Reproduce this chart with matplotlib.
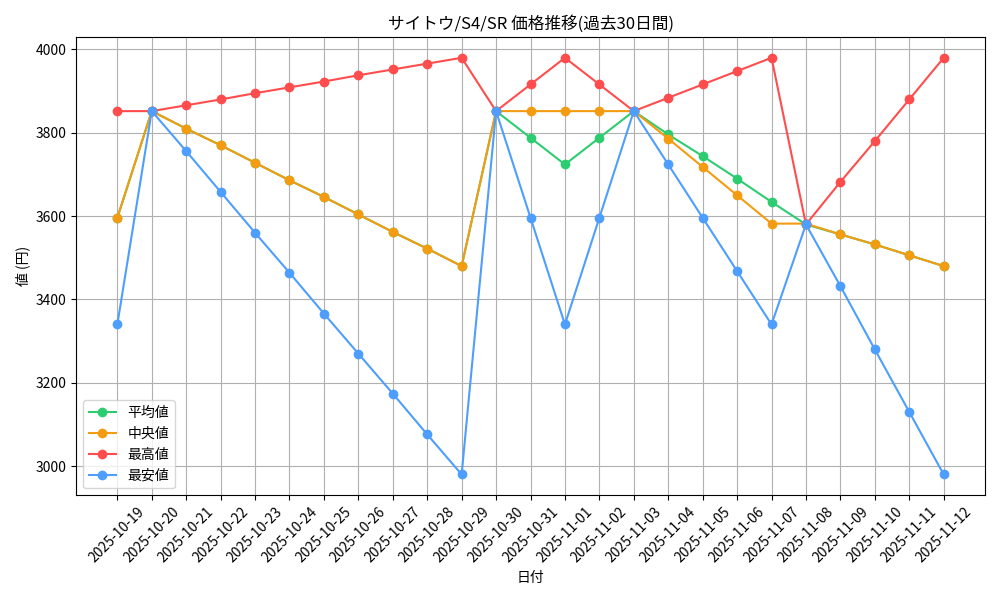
import matplotlib
matplotlib.use("Agg")
import matplotlib.pyplot as plt
import pandas as pd

plt.rcParams['font.family'] = ['Noto Sans CJK JP', 'DejaVu Sans']

dates = pd.date_range("2025-10-19", "2025-11-12").strftime("%Y-%m-%d").tolist()
mean_v = [3596, 3852, 3810, 3770, 3728, 3686, 3646, 3604, 3562, 3522, 3480,
          3852, 3788, 3724, 3788, 3852, 3796, 3744, 3690, 3634, 3580, 3556, 3532, 3506, 3480]
median_v = [3596, 3852, 3810, 3770, 3728, 3686, 3646, 3604, 3562, 3522, 3480,
            3852, 3852, 3852, 3852, 3852, 3786, 3718, 3650, 3582, 3582, 3556, 3532, 3506, 3480]
max_v = [3852, 3852, 3866, 3880, 3895, 3909, 3923, 3938, 3952, 3966, 3980,
         3852, 3916, 3980, 3916, 3852, 3884, 3916, 3948, 3980, 3580, 3682, 3780, 3880, 3980]
min_v = [3340, 3852, 3756, 3658, 3560, 3464, 3366, 3270, 3174, 3076, 2980,
         3852, 3596, 3340, 3596, 3852, 3724, 3596, 3468, 3340, 3580, 3432, 3280, 3130, 2980]

fig, ax = plt.subplots(figsize=(10, 6), dpi=100)
ax.plot(dates, mean_v, marker='o', color='#2ecc71', label='平均値')
ax.plot(dates, median_v, marker='o', color='#f39c12', label='中央値')
ax.plot(dates, max_v, marker='o', color='#ff4d4d', label='最高値')
ax.plot(dates, min_v, marker='o', color='#4d9eff', label='最安値')
ax.set_title("サイトウ/S4/SR 価格推移(過去30日間)")
ax.set_xlabel("日付")
ax.set_ylabel("値 (円)")
ax.grid(True)
ax.legend(loc='lower left')
plt.xticks(rotation=45)
plt.tight_layout()
plt.savefig("out.png")
